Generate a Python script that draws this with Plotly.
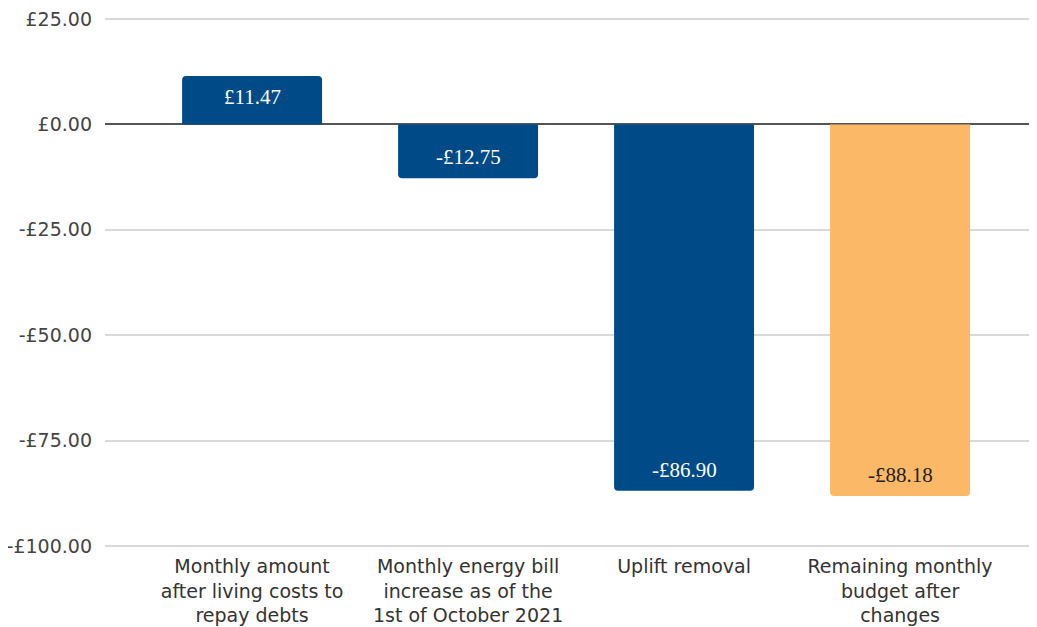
import plotly.graph_objects as go

categories = [
    "Monthly amount<br>after living costs to<br>repay debts",
    "Monthly energy bill<br>increase as of the<br>1st of October 2021",
    "Uplift removal",
    "Remaining monthly<br>budget after<br>changes",
]
values = [11.47, -12.75, -86.90, -88.18]
bar_colors = ["#004B87", "#004B87", "#004B87", "#FBB967"]
text_colors = ["#FFFFFF", "#FFFFFF", "#FFFFFF", "#222222"]
tick_vals = [25, 0, -25, -50, -75, -100]


def money(v):
    return ("-" if v < 0 else "") + "£" + f"{abs(v):,.2f}"


tick_text = [money(v) for v in tick_vals]
labels = [money(v) for v in values]
xs = list(range(len(categories)))

fig = go.Figure(
    go.Bar(
        x=xs,
        y=values,
        marker=dict(color=bar_colors, cornerradius=4, line=dict(width=0)),
        width=0.648,
        hoverinfo="skip",
    )
)

for x, v, lab, c in zip(xs, values, labels, text_colors):
    fig.add_annotation(
        x=x, y=v, text=lab, showarrow=False,
        yanchor="middle", yshift=-21 if v > 0 else 21,
        font=dict(family="Liberation Serif, Times New Roman, serif", size=21, color=c),
    )

fig.update_layout(
    width=1029,
    height=619,
    margin=dict(l=97, r=0, t=10, b=79),
    plot_bgcolor="white",
    paper_bgcolor="white",
    showlegend=False,
    font=dict(family="DejaVu Sans, Arial, sans-serif", color="#444444", size=19),
    xaxis=dict(
        range=[-0.681, 3.634],
        tickvals=xs,
        ticktext=categories,
        showgrid=False,
        zeroline=False,
        showline=False,
        ticks="",
        ticklabelstandoff=5,
        ticklabeloverflow="allow",
        tickfont=dict(family="DejaVu Sans, Arial, sans-serif", size=19, color="#333333"),
    ),
    yaxis=dict(
        range=[-100.5, 25.25],
        tickvals=tick_vals,
        ticktext=tick_text,
        showgrid=True,
        gridcolor="#D9D9D9",
        gridwidth=1.5,
        zeroline=True,
        zerolinecolor="#555555",
        zerolinewidth=1.5,
        showline=False,
        ticks="",
        ticklabelstandoff=12,
        ticklabeloverflow="allow",
        tickfont=dict(family="DejaVu Sans, Arial, sans-serif", size=19, color="#444444"),
    ),
)

fig.write_html("out.html")
